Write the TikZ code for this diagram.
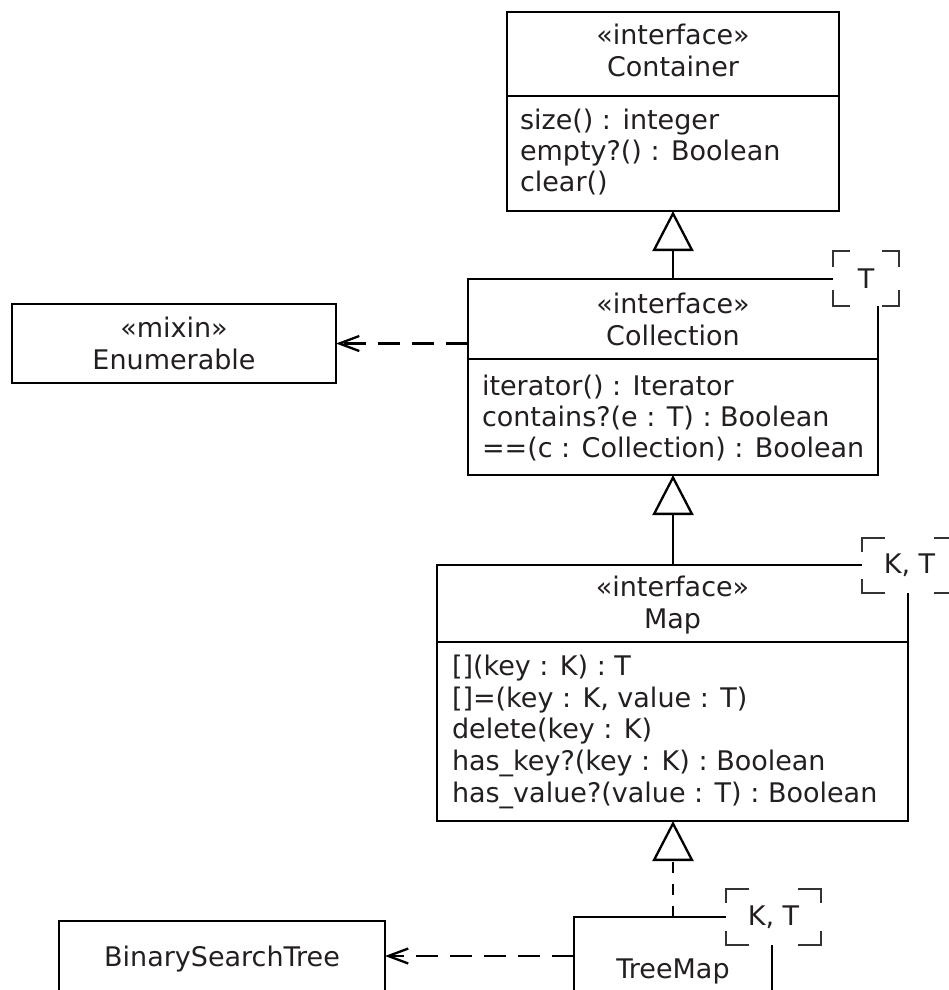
\documentclass[tikz,border=0pt]{standalone}
\usepackage{fontspec}
\setmainfont{DejaVu Sans}
\usetikzlibrary{arrows.meta}
\definecolor{ink}{HTML}{231F20}
\definecolor{cornergray}{HTML}{333333}
\newcommand\tplcorners[3]{%
  \draw[corner] ([yshift=-#3]#1.north west) -- (#1.north west) -- ([xshift=#2]#1.north west);
  \draw[corner] ([yshift=-#3]#1.north east) -- (#1.north east) -- ([xshift=-#2]#1.north east);
  \draw[corner] ([yshift=#3]#1.south west) -- (#1.south west) -- ([xshift=#2]#1.south west);
  \draw[corner] ([yshift=#3]#1.south east) -- (#1.south east) -- ([xshift=-#2]#1.south east);
}
\begin{document}
\begin{tikzpicture}[x=1pt,y=-1pt,
  every node/.style={font=\fontsize{27pt}{31pt}\selectfont, text=ink},
  shell/.style={draw=none, inner sep=0pt, outer sep=0pt, anchor=north west},
  umlbox/.style={draw=black, line width=2.7pt, inner sep=0pt, outer sep=0pt, anchor=north west},
  boxline/.style={line width=2.7pt, draw=black},
  head/.style={inner sep=0pt, outer sep=0pt, anchor=base},
  attr/.style={inner sep=0pt, outer sep=0pt, anchor=base west},
  tpl/.style={inner sep=0pt, outer sep=0pt},
  corner/.style={line width=2.2pt, draw=cornergray},
  gen/.style={line width=2.3pt, draw=black, -{Triangle[open, length=40pt, width=41pt, fill=white]}},
  real/.style={gen, dash pattern=on 11pt off 11pt},
  dep/.style={line width=2.3pt, draw=black, dash pattern=on 22pt off 12pt, -{Straight Barb[length=20pt, width=15pt]}}
]
\useasboundingbox (0,0) rectangle (949,990);

% Container
\node[umlbox, minimum width=332pt, minimum height=199pt] (cont) at (507,12) {};
\draw[boxline] ([yshift=-84pt]cont.north west) -- ([yshift=-84pt]cont.north east);
\node[head] (contst) at (673,45) {«interface»};
\node[head] (contnm) at (673,76) {Container};
\node[attr] (conta1) at (520,129) {size() : integer};
\node[attr] (conta2) at (520,160) {empty?() : Boolean};
\node[attr] (conta3) at (520,191) {clear()};

% Collection
\node[shell, minimum width=410pt, minimum height=196pt] (coll) at (468,279) {};
\node[tpl, minimum width=66pt, minimum height=55pt] (tplc) at (866,278.5) {T};
\tplcorners{tplc}{17pt}{16pt}
\draw[boxline] (tplc.west |- coll.north) -- (coll.north west) -- (coll.south west) -- (coll.south east) -- (coll.east |- tplc.south);
\draw[boxline] ([yshift=-80pt]coll.north west) -- ([yshift=-80pt]coll.north east);
\node[head] (collst) at (673,313) {«interface»};
\node[head] (collnm) at (673,345) {Collection};
\node[attr] (colla1) at (482,395) {iterator() : Iterator};
\node[attr] (colla2) at (482,426) {contains?(e : T) : Boolean};
\node[attr] (colla3) at (482,457) {==(c : Collection) : Boolean};

% Enumerable
\node[umlbox, minimum width=324pt, minimum height=79pt] (enum) at (12,304) {};
\node[head] (enumst) at (174,337) {«mixin»};
\node[head] (enumnm) at (174,369) {Enumerable};

% Map
\node[shell, minimum width=471pt, minimum height=256pt] (map) at (437,565) {};
\node[tpl, minimum width=95pt, minimum height=55pt] (tplm) at (909.5,565.5) {K, T};
\tplcorners{tplm}{23pt}{14pt}
\draw[boxline] (tplm.west |- map.north) -- (map.north west) -- (map.south west) -- (map.south east) -- (map.east |- tplm.south);
\draw[boxline] ([yshift=-77pt]map.north west) -- ([yshift=-77pt]map.north east);
\node[head] (mapst) at (672.5,596) {«interface»};
\node[head] (mapnm) at (672.5,628) {Map};
\node[attr] (mapa1) at (452,675) {[](key : K) : T};
\node[attr] (mapa2) at (452,707) {[]=(key : K, value : T)};
\node[attr] (mapa3) at (452,738.5) {delete(key : K)};
\node[attr] (mapa4) at (452,770) {has\_key?(key : K) : Boolean};
\node[attr] (mapa5) at (452,802) {has\_value?(value : T) : Boolean};

% TreeMap
\node[shell, minimum width=198pt, minimum height=104pt] (tree) at (574,917) {};
\node[tpl, minimum width=95pt, minimum height=56pt] (tplt) at (773.5,917) {K, T};
\tplcorners{tplt}{23pt}{14pt}
\draw[boxline] (tplt.west |- tree.north) -- (tree.north west) -- (tree.south west);
\draw[boxline] (tree.east |- tplt.south) -- (tree.south east);
\node[head] (treenm) at (673,978) {TreeMap};

% BinarySearchTree
\node[umlbox, minimum width=326pt, minimum height=70pt] (bst) at (59,921) {};
\node[head] (bstnm) at (222,966) {BinarySearchTree};

% connectors
\draw[gen] (coll.north) -- (cont.south);
\draw[gen] (coll.south |- map.north) -- (coll.south);
\draw[real] (tree.north) -- (tree.north |- map.south);
\draw[dep] (coll.west |- enum.east) -- (enum.east);
\draw[dep] (tree.west |- bst.east) -- (bst.east);
\end{tikzpicture}
\end{document}
